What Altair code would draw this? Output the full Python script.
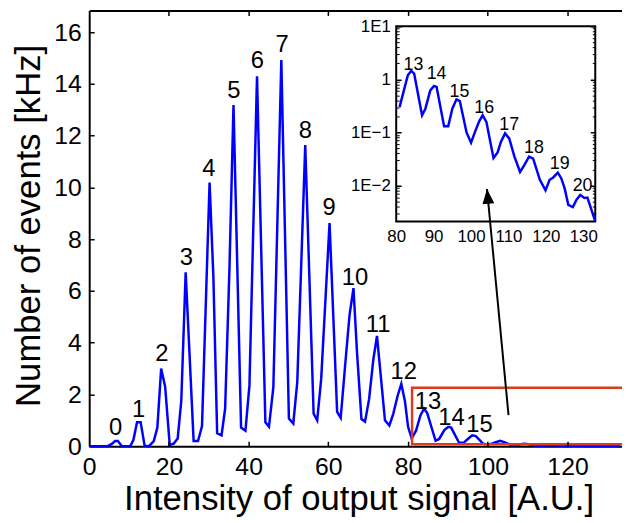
import altair as alt
import pandas as pd

FONT = "Liberation Sans"

# ---- main curve ----
signal_x = [0, 4.6, 5.6, 6.5, 7.2, 8.2, 10.3, 11.1, 12.0, 12.9,
            13.9, 15.0, 16.2, 17.1, 18.05, 19.05, 20.2, 21.2, 22.2, 23.1,
            24.2, 26.2, 27.3, 28.3, 30.2, 31.15, 32.1, 33.2, 34.1, 35.2,
            36.2, 38.1, 39.2, 40.2, 42.1, 44.2, 45.1, 46.2, 48.2, 50.1,
            51.2, 52.2, 54.2, 56.3, 57.2, 58.2, 60.3, 62.2, 63.1, 64.2,
            65.3, 66.3, 67.2, 68.3, 69.2, 70.2, 71.3, 72.2, 73.1, 74.2,
            75.3, 76.3, 77.4, 78.3, 79.2, 80.0, 80.9, 82.0, 83.1, 84.0,
            84.8, 86.9, 87.8, 89.1, 90.1, 90.8, 92.8, 93.9, 95.0, 96.1,
            97.0, 98.8, 100.0, 101.0, 102.2, 103.1, 104.1, 106.0, 107.1, 108.0,
            109.1, 110.2, 111.6, 113.1, 114.2, 115.5, 116.6, 118.4, 119.9, 121.0,
            121.9, 123.2, 124.1, 125.0, 126.0, 127.2, 128.2, 129.2, 130.3, 131.1,
            133.2]
events_khz = [0, 0, 0.08, 0.2, 0.2, 0, 0, 0.25, 0.93, 0.93,
              0.02, 0, 0.2, 0.72, 3.0, 2.3, 0.05, 0.1, 0.3, 1.75,
              6.72, 0.2, 0.2, 0.78, 10.19, 6.56, 0.5, 0.42, 1.45, 6.94,
              13.19, 0.72, 0.6, 2.35, 14.3, 0.92, 0.75, 2.28, 14.92, 1.07,
              0.88, 2.48, 11.64, 1.26, 1.0, 2.6, 8.62, 1.33, 1.1, 3.11,
              5.05, 6.11, 3.6, 1.05, 0.95, 1.8, 3.37, 4.26, 2.8, 1.0,
              0.8, 1.26, 1.96, 2.41, 1.75, 0.75, 0.30, 0.6, 1.19, 1.45,
              1.28, 0.21, 0.28, 0.62, 0.75, 0.72, 0.13, 0.13, 0.28, 0.42,
              0.39, 0.10, 0.064, 0.10, 0.163, 0.21, 0.158, 0.033, 0.042, 0.067,
              0.096, 0.077, 0.035, 0.018, 0.024, 0.035, 0.032, 0.0128, 0.0081, 0.0128,
              0.014, 0.0174, 0.0137, 0.0089, 0.0043, 0.0039, 0.0054, 0.0066, 0.0058, 0.0059,
              0.0021]

# ---- peak annotations ----
main_label_text = [str(i) for i in range(16)]
main_label_x = [6.6, 12.4, 18.2, 24.4, 30.0, 36.3, 42.2, 48.4, 54.2, 60.2,
                66.7, 72.5, 78.9, 85.0, 90.9, 97.9]
main_label_y = [0.43, 1.14, 3.30, 7.0, 10.45, 13.45, 14.6, 15.23, 11.92, 8.92,
                6.24, 4.41, 2.58, 1.45, 0.82, 0.54]

inset_label_text = [str(i) for i in range(13, 21)]
inset_label_x = [84.6, 90.8, 96.9, 103.5, 110.2, 116.8, 123.7, 129.8]
inset_label_y = [1.49, 1.0, 0.472, 0.231, 0.113, 0.0413, 0.0202, 0.00796]

# ---- axes ----
x_ticks = [0, 20, 40, 60, 80, 100, 120]
y_ticks = [0, 2, 4, 6, 8, 10, 12, 14, 16]
x_domain = [0, 133.67]
y_domain = [0, 16.84]

inset_x_ticks = [80, 90, 100, 110, 120, 130]
inset_y_ticks = [0.01, 0.1, 1, 10]
inset_y_minor = [m * d for d in [0.001, 0.01, 0.1, 1] for m in range(2, 10) if 0.0021 <= m * d <= 10]
inset_x_domain = [80, 133.2]
inset_y_domain = [0.0021, 10]

# zoom window and arrow (data coordinates)
zoom_box = {"x": [81.0], "x2": [140.0], "y": [0.08], "y2": [2.26]}
arrow = {"x": [105.2], "y": [1.2], "x2": [99.8], "y2": [9.94]}

W, H = 538, 440
IX_RANGE = [310, 511]
IY_RANGE = [213, 16]

curve = pd.DataFrame({"x": signal_x, "y": events_khz})
main_lab = pd.DataFrame({"x": main_label_x, "y": main_label_y, "t": main_label_text})
inset_lab = pd.DataFrame({"x": inset_label_x, "y": inset_label_y, "t": inset_label_text})
box_df = pd.DataFrame({"x": [inset_x_domain[0]], "x2": [inset_x_domain[1]],
                       "y": [inset_y_domain[0]], "y2": [inset_y_domain[1]]})
zoom_df = pd.DataFrame(zoom_box)
arrow_df = pd.DataFrame(arrow)


def MX():
    return alt.Scale(domain=x_domain, nice=False, zero=False)


def MY():
    return alt.Scale(domain=y_domain, nice=False, zero=False)


def IX():
    return alt.Scale(domain=inset_x_domain, range=IX_RANGE, nice=False, zero=False)


def IY():
    return alt.Scale(type="log", domain=inset_y_domain, range=IY_RANGE, nice=False)


def tick_axis(orient, offset, values, size, width=1.5):
    return alt.Axis(orient=orient, offset=offset, values=values, ticks=True,
                    tickSize=size, tickWidth=width, tickColor="black",
                    labels=False, domain=False, grid=False, title=None, zindex=2)


# main curve with labelled axes
main_line = alt.Chart(curve).mark_line(color="#0000ff", strokeWidth=2.5).encode(
    x=alt.X("x:Q", scale=MX(), axis=alt.Axis(
        orient="bottom", values=x_ticks, format="d", labelFont=FONT, labelFontSize=25,
        labelColor="black", labelPadding=9, labelFlush=False, labelOverlap=False,
        ticks=False, tickSize=0, domain=True, domainColor="black", domainWidth=2,
        grid=False, title="Intensity of output signal [A.U.]", titleFont=FONT,
        titleFontSize=35, titleFontWeight="normal", titleColor="black",
        titleX=272, titleY=64, titleAlign="center", titleBaseline="alphabetic")),
    y=alt.Y("y:Q", scale=MY(), axis=alt.Axis(
        orient="left", values=y_ticks, format="d", labelFont=FONT, labelFontSize=25,
        labelColor="black", labelPadding=8, labelFlush=False, labelOverlap=False,
        ticks=False, tickSize=0, domain=True, domainColor="black", domainWidth=2,
        grid=False, title="Number of events [kHz]", titleFont=FONT,
        titleFontSize=35, titleFontWeight="normal", titleColor="black",
        titleX=-50, titleY=217, titleAngle=270, titleAlign="center",
        titleBaseline="alphabetic")),
)

inv = dict(opacity=0)
main_ticks = alt.Chart(curve).mark_point(**inv).encode(
    x=alt.X("x:Q", scale=MX(), axis=tick_axis("bottom", -5, x_ticks[1:], 5)),
    y=alt.Y("y:Q", scale=MY(), axis=tick_axis("left", -5, y_ticks[1:], 5)),
)
main_top_line = alt.Chart(curve).mark_point(**inv).encode(
    x=alt.X("x:Q", scale=MX(), axis=alt.Axis(
        orient="top", ticks=False, labels=False, domain=True, domainColor="black",
        domainWidth=2, grid=False, title=None)),
    y=alt.Y("y:Q", scale=MY(), axis=None),
)
main_top_ticks = alt.Chart(curve).mark_point(**inv).encode(
    x=alt.X("x:Q", scale=MX(), axis=tick_axis("top", -5, x_ticks[1:], 5)),
    y=alt.Y("y:Q", scale=MY(), axis=None),
)

zoom_rect = alt.Chart(zoom_df).mark_rect(
    fillOpacity=0, stroke="#dd3a1e", strokeWidth=2.5, clip=True).encode(
    x=alt.X("x:Q", scale=MX(), axis=None), x2="x2:Q",
    y=alt.Y("y:Q", scale=MY(), axis=None), y2="y2:Q",
)

main_labels = alt.Chart(main_lab).mark_text(
    font=FONT, fontSize=24, color="black", align="center", baseline="alphabetic").encode(
    x=alt.X("x:Q", scale=MX(), axis=None),
    y=alt.Y("y:Q", scale=MY(), axis=None),
    text="t:N",
)

# ---- inset ----
inset_box = alt.Chart(box_df).mark_rect(fill="white", stroke="black", strokeWidth=2).encode(
    x=alt.X("x:Q", scale=IX(), axis=alt.Axis(
        orient="bottom", offset=-(H - IY_RANGE[0]), values=inset_x_ticks, format="d",
        labelFont=FONT, labelFontSize=17, labelColor="black", labelPadding=7,
        labelFlush=False, labelOverlap=False, ticks=False, tickSize=0,
        domain=False, grid=False, title=None)),
    x2="x2:Q",
    y=alt.Y("y:Q", scale=IY(), axis=alt.Axis(
        orient="left", offset=-IX_RANGE[0], values=inset_y_ticks,
        labelExpr="datum.value > 5 ? '1E1' : datum.value > 0.5 ? '1' : datum.value > 0.05 ? '1E\u22121' : '1E\u22122'",
        labelFont=FONT, labelFontSize=17, labelColor="black", labelPadding=6,
        labelFlush=False, labelOverlap=False, ticks=False, tickSize=0,
        domain=False, grid=False, title=None)),
    y2="y2:Q",
)

inset_line = alt.Chart(curve).transform_filter("datum.x >= 80.5").mark_line(
    color="#0000ff", strokeWidth=2.5, clip=True).encode(
    x=alt.X("x:Q", scale=IX(), axis=None),
    y=alt.Y("y:Q", scale=IY(), axis=tick_axis("left", -IX_RANGE[0] - 5, inset_y_ticks, 5)),
)

inset_labels = alt.Chart(inset_lab).mark_text(
    font=FONT, fontSize=18, color="black", align="center", baseline="alphabetic").encode(
    x=alt.X("x:Q", scale=IX(), axis=None),
    y=alt.Y("y:Q", scale=IY(), axis=tick_axis("right", -(W - IX_RANGE[1]) - 5, inset_y_ticks, 5)),
    text="t:N",
)

inset_minor_l = alt.Chart(box_df).mark_point(**inv).encode(
    x=alt.X("x:Q", scale=IX(), axis=None),
    y=alt.Y("y:Q", scale=IY(), axis=tick_axis("left", -IX_RANGE[0] - 3, inset_y_minor, 3, 1)),
)
inset_minor_r = alt.Chart(box_df).mark_point(**inv).encode(
    x=alt.X("x:Q", scale=IX(), axis=None),
    y=alt.Y("y:Q", scale=IY(), axis=tick_axis("right", -(W - IX_RANGE[1]) - 3, inset_y_minor, 3, 1)),
)

# ---- arrow ----
arrow_line = alt.Chart(arrow_df).mark_rule(color="black", strokeWidth=2).encode(
    x=alt.X("x:Q", scale=MX(), axis=None), x2="x2:Q",
    y=alt.Y("y:Q", scale=MY(), axis=None), y2="y2:Q",
)
arrow_head = alt.Chart(arrow_df).mark_point(
    shape="M0,0L-0.4,1L0.4,1Z", filled=True, size=900, angle=354.6,
    color="black", opacity=1, strokeWidth=0).encode(
    x=alt.X("x2:Q", scale=MX(), axis=None),
    y=alt.Y("y2:Q", scale=MY(), axis=None),
)

chart = alt.layer(
    main_line, main_ticks, main_top_line, main_top_ticks, zoom_rect, main_labels,
    inset_box, inset_line, inset_labels, inset_minor_l, inset_minor_r,
    arrow_line, arrow_head,
).resolve_scale(x="independent", y="independent").properties(
    width=W, height=H,
    padding={"left": 82, "top": 0, "right": 0, "bottom": 70},
    autosize=alt.AutoSizeParams(type="none"),
    background="white",
).configure_view(stroke=None)

chart.save("out.html", embed_options={"renderer": "svg", "actions": False})
